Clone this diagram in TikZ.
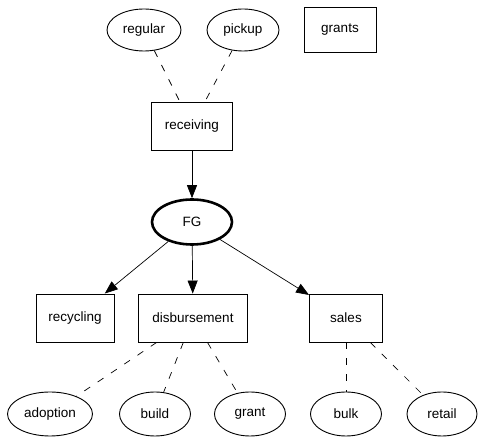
\documentclass[tikz,border=0pt]{standalone}
\usepackage{fontspec}
\setmainfont{Liberation Sans}
\usetikzlibrary{shapes.geometric,arrows.meta}
\begin{document}
\begin{tikzpicture}[x=1pt,y=-1pt,
  every node/.style={font=\fontsize{13.5}{15}\selectfont, inner sep=0pt, line width=0.9pt},
  boxnode/.style={draw, rectangle, minimum height=48pt},
  ovalnode/.style={draw, ellipse, minimum height=42pt},
  fgnode/.style={draw, ellipse, line width=2.6pt, minimum width=80pt, minimum height=45pt},
  solidarrow/.style={line width=0.7pt, -{Triangle[length=13pt,width=10pt]}},
  dashline/.style={line width=0.7pt, dash pattern=on 7pt off 9pt}]
\useasboundingbox (0,0) rectangle (483,443);
\node[ovalnode, minimum width=74pt] (regular) at (144,30) {regular};
\node[ovalnode, minimum width=72pt] (pickup) at (243,30) {pickup};
\node[boxnode, minimum width=72pt, minimum height=45pt] (grants) at (340,30) {grants};
\node[boxnode, minimum width=81pt] (receiving) at (192,126) {receiving};
\node[fgnode] (FG) at (192,222) {FG};
\node[boxnode, minimum width=78pt] (recycling) at (75,318) {recycling};
\node[boxnode, minimum width=109pt] (disb) at (193,318) {disbursement};
\node[boxnode, minimum width=73pt] (sales) at (346,318) {sales};
\node[ovalnode, minimum width=85pt, minimum height=44pt] (adoption) at (50,414) {adoption};
\node[ovalnode, minimum width=71pt, minimum height=44pt] (build) at (155,414) {build};
\node[ovalnode, minimum width=71pt, minimum height=44pt] (grant) at (250,414) {grant};
\node[ovalnode, minimum width=71pt, minimum height=44pt] (bulk) at (346,414) {bulk};
\node[ovalnode, minimum width=70pt, minimum height=44pt] (retail) at (442,414) {retail};
\draw[dashline] (regular) -- (receiving);
\draw[dashline] (pickup) -- (receiving);
\draw[solidarrow] (receiving) -- (FG);
\draw[solidarrow] (FG) -- (recycling);
\draw[solidarrow] (FG) -- (disb);
\draw[solidarrow] (FG) -- (sales);
\draw[dashline] (disb) -- (adoption);
\draw[dashline] (disb) -- (build);
\draw[dashline] (disb) -- (grant);
\draw[dashline] (sales) -- (bulk);
\draw[dashline] (sales) -- (retail);
\end{tikzpicture}
\end{document}
